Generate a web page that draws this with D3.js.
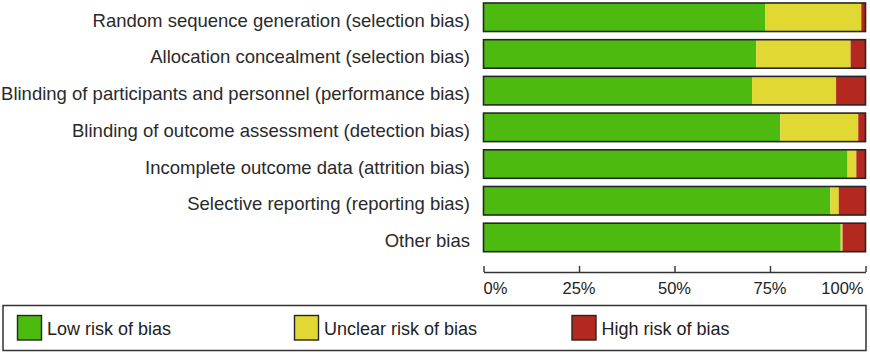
<!DOCTYPE html>
<html><head><meta charset="utf-8">
<script src="https://cdn.jsdelivr.net/npm/d3@7"></script>
<style>
html,body{margin:0;padding:0;background:#fff;}
svg{display:block;}
</style></head>
<body>
<script>
const categories = [
  "Random sequence generation (selection bias)",
  "Allocation concealment (selection bias)",
  "Blinding of participants and personnel (performance bias)",
  "Blinding of outcome assessment (detection bias)",
  "Incomplete outcome data (attrition bias)",
  "Selective reporting (reporting bias)",
  "Other bias"
];
const lowRisk     = [73.7, 71.4, 70.3, 77.7, 95.3, 90.8, 93.5];
const unclearRisk = [25.2, 24.7, 22.0, 20.4, 2.3, 2.2, 0.5];
const highRisk    = [1.1, 3.9, 7.7, 1.9, 2.4, 7.0, 6.0];
const tickValues  = [0, 25, 50, 75, 100];
const tickLabels  = ["0%", "25%", "50%", "75%", "100%"];
const seriesNames = ["Low risk of bias", "Unclear risk of bias", "High risk of bias"];
const seriesColors = ["#4cba0f", "#e1d833", "#b3281f"];

const W = 870, H = 354;
const svg = d3.select("body").append("svg").attr("width", W).attr("height", H);

const x = d3.scaleLinear().domain([0, 100]).range([483.5, 865.5]);
const y = d3.scaleBand().domain(categories).range([-1.1, 255.8]).paddingInner(0.223).paddingOuter(0.1115);

const rows = categories.map((c, i) => ({cat: c, vals: [lowRisk[i], unclearRisk[i], highRisk[i]]}));
const stack = d3.stack().keys([0, 1, 2]).value((d, k) => d.vals[k]);
const layers = stack(rows);

const g = svg.append("g");
layers.forEach((layer, k) => {
  g.selectAll(null).data(layer).enter().append("rect")
    .attr("x", d => x(d[0]))
    .attr("width", d => Math.max(0, x(d[1]) - x(d[0])))
    .attr("y", d => y(d.data.cat))
    .attr("height", y.bandwidth())
    .attr("fill", seriesColors[k]);
});
// bar outlines
g.selectAll(null).data(categories).enter().append("rect")
  .attr("x", x(0)).attr("width", x(100) - x(0))
  .attr("y", d => y(d)).attr("height", y.bandwidth())
  .attr("fill", "none").attr("stroke", "#262626").attr("stroke-width", 1.6);

// category labels
svg.selectAll(null).data(categories).enter().append("text")
  .attr("x", 470).attr("y", d => y(d) + y.bandwidth() / 2 + 9.5)
  .attr("text-anchor", "end")
  .attr("font-family", "Liberation Sans, Arial, sans-serif")
  .attr("font-size", 18.5).attr("fill", "#2a2a2a")
  .text(d => d);

// axis
const axisG = svg.append("g").attr("transform", "translate(0,272)");
const axis = d3.axisTop(x).tickValues(tickValues).tickSize(6).tickSizeOuter(0).tickFormat(() => "");
axisG.call(axis);
axisG.select(".domain").attr("stroke", "#333").attr("stroke-width", 1.4);
axisG.selectAll(".tick line").attr("stroke", "#333").attr("stroke-width", 1.4);
axisG.selectAll(null).data(tickValues).enter().append("text")
  .attr("x", d => x(d)).attr("y", 22)
  .attr("text-anchor", (d, i) => i === 0 ? "start" : (i === tickValues.length - 1 ? "end" : "middle"))
  .attr("dx", (d, i) => i === 0 ? 0 : (i === tickValues.length - 1 ? -2 : 0))
  .attr("font-family", "Liberation Sans, Arial, sans-serif")
  .attr("font-size", 16.5).attr("fill", "#222")
  .text((d, i) => tickLabels[i]);

// legend
const leg = svg.append("g");
leg.append("rect").attr("x", 3).attr("y", 305.5).attr("width", 863).attr("height", 45)
  .attr("fill", "#fff").attr("stroke", "#333").attr("stroke-width", 1.5);
const legX = [17.5, 294.5, 572];
seriesNames.forEach((n, k) => {
  leg.append("rect").attr("x", legX[k]).attr("y", 315.5).attr("width", 24).attr("height", 24.5)
    .attr("fill", seriesColors[k]).attr("stroke", "#262626").attr("stroke-width", 1.4);
  leg.append("text").attr("x", legX[k] + 29.5).attr("y", 334.5)
    .attr("font-family", "Liberation Sans, Arial, sans-serif")
    .attr("font-size", 18).attr("fill", "#222").text(n);
});
</script>
</body></html>
